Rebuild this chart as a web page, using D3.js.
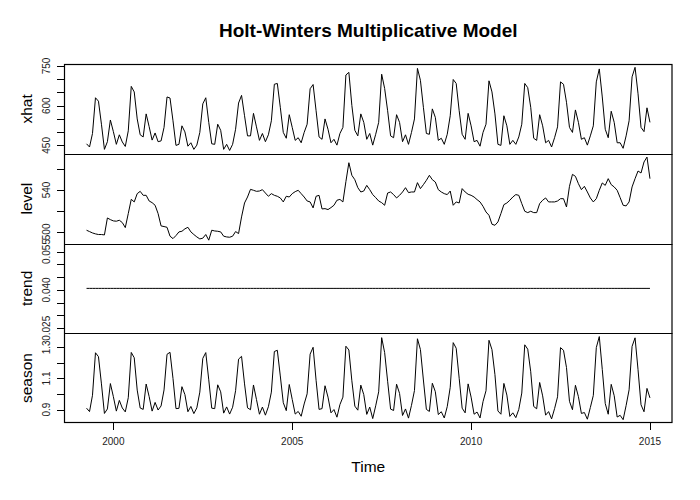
<!DOCTYPE html>
<html><head><meta charset="utf-8">
<script src="https://cdn.jsdelivr.net/npm/d3@7"></script>
<style>body{margin:0;background:#fff} svg{display:block}</style>
</head><body>
<script>
// ---- data (monthly series, starting April 1999) ----
const startYear = 1999, startMonth = 4, frequency = 12;

const xhat = [
456,444,495,630,617,530,435,464,546,502,454,490,
463,446,505,673,652,550,490,482,569,521,470,497,
464,467,518,633,629,543,450,454,524,501,447,460,
435,451,499,607,630,537,456,454,530,507,435,454,
431,454,511,610,639,562,486,486,571,520,469,495,
464,490,543,681,684,594,499,477,566,518,469,479,
460,499,530,664,680,581,482,473,550,511,460,473,
451,495,518,716,726,601,507,486,569,537,473,495,
451,492,537,719,665,581,486,479,566,537,464,490,
454,499,550,741,696,594,495,492,588,556,469,477,
454,492,562,699,684,581,492,473,571,524,464,469,
447,499,530,694,652,569,454,450,562,524,454,469,
454,482,530,684,668,594,477,469,566,524,460,469,
444,479,520,690,681,613,518,499,584,537,473,479,
451,486,524,690,739,633,511,479,579,537,460,460,
439,486,543,709,745,645,518,502,592,537];

const level = [
501.6,500.3,499.0,498.1,497.5,497.5,497.1,513.3,511.7,510.5,510.2,511.1,
508.9,504.1,517.5,531.1,528.6,536.5,538.7,534.9,534.9,529.5,527.9,525.4,
517.5,505.7,505.1,504.4,495.9,493.6,496.5,500.0,500.6,502.9,504.4,500.0,
497.5,495.2,493.3,494.0,497.5,492.1,501.6,500.9,500.6,500.0,495.9,495.2,
494.9,495.9,500.3,498.4,514.3,527.6,533.3,540.6,539.7,538.7,539.0,540.3,
537.1,534.0,536.5,534.9,534.0,532.4,528.6,534.0,533.3,536.5,538.4,539.7,
536.5,533.3,529.5,528.6,522.9,534.0,534.9,521.9,522.2,521.3,523.2,525.4,
530.2,531.0,528.6,548.0,566.0,554.0,549.8,542.2,538.1,539.0,544.4,540.3,
535.6,532.7,529.5,527.9,525.4,537.1,538.1,535.6,532.4,534.9,538.1,542.2,
537.5,538.1,538.1,547.0,541.3,545.1,549.2,554.0,549.8,547.6,540.3,538.1,
536.5,535.6,539.0,525.4,528.6,527.6,541.3,538.1,535.9,534.9,533.3,530.8,
528.6,524.4,519.0,515.9,507.3,506.3,509.5,517.5,526.0,527.6,530.2,533.3,
535.6,534.9,527.0,519.7,518.4,519.7,518.4,518.4,527.0,530.2,532.4,528.6,
528.6,528.6,529.5,531.7,531.7,523.8,543.5,554.9,553.0,546.0,540.3,543.5,
538.1,532.4,528.6,531.7,539.7,546.7,544.4,550.8,545.1,542.9,539.7,532.7,
525.4,524.8,528.6,542.9,550.8,558.1,556.2,566.7,571.4,550.8];

const trendValue = 0.0406;   // the fitted trend is constant
const trend = xhat.map(() => trendValue);

const season = [
0.909,0.887,0.992,1.265,1.240,1.065,0.875,0.904,1.067,0.983,0.890,0.959,
0.910,0.885,0.976,1.267,1.233,1.025,0.910,0.901,1.064,0.984,0.890,0.946,
0.897,0.923,1.026,1.255,1.268,1.100,0.906,0.908,1.047,0.996,0.886,0.920,
0.874,0.911,1.012,1.229,1.266,1.091,0.909,0.906,1.059,1.014,0.877,0.917,
0.871,0.915,1.021,1.224,1.242,1.065,0.911,0.899,1.058,0.965,0.870,0.916,
0.864,0.918,1.012,1.273,1.281,1.116,0.944,0.893,1.061,0.965,0.871,0.888,
0.857,0.936,1.001,1.256,1.300,1.088,0.901,0.906,1.053,0.980,0.879,0.900,
0.851,0.932,0.980,1.307,1.283,1.085,0.922,0.896,1.057,0.996,0.869,0.916,
0.842,0.924,1.014,1.362,1.266,1.082,0.903,0.894,1.063,1.004,0.862,0.904,
0.845,0.927,1.022,1.355,1.286,1.090,0.901,0.888,1.069,1.015,0.868,0.886,
0.846,0.919,1.043,1.330,1.294,1.101,0.909,0.879,1.065,0.980,0.870,0.884,
0.846,0.951,1.021,1.345,1.285,1.124,0.891,0.870,1.068,0.993,0.856,0.879,
0.848,0.901,1.006,1.316,1.288,1.143,0.920,0.905,1.074,0.988,0.864,0.887,
0.840,0.906,0.982,1.298,1.281,1.170,0.953,0.899,1.056,0.983,0.875,0.881,
0.838,0.913,0.991,1.298,1.369,1.158,0.939,0.870,1.062,0.989,0.852,0.863,
0.835,0.926,1.027,1.306,1.361,1.156,0.931,0.886,1.036,0.975];

const panelNames = ["xhat", "level", "trend", "season"];
const xTickYears = [2000, 2005, 2010, 2015];
const xhatTicks = [450, 500, 550, 600, 650, 700, 750];
const xhatTickLabels = ["450", "600", "750"];
const levelTicks = [500, 520, 540, 560];
const levelTickLabels = ["500", "540"];
const trendTicks = [0.025, 0.030, 0.035, 0.040, 0.045, 0.050, 0.055];
const trendTickLabels = ["0.025", "0.040", "0.055"];
const seasonTicks = [0.9, 1.0, 1.1, 1.2, 1.3];
const seasonTickLabels = ["0.9", "1.1", "1.3"];

(function draw() {
  // ---- layout ----
  const W = 700, H = 500;
  const pLeft = 64, pRight = 672.5, pTop = 64, pBottom = 423;
  const font = "'Liberation Sans', Arial, Helvetica, sans-serif";

  const time = xhat.map((_, i) => startYear + (startMonth - 1) / frequency + i / frequency);

  function rPad(lo, hi) {            // R-style 4% axis extension
    if (lo === hi) { const d = 0.4 * Math.abs(lo); lo -= d; hi += d; }
    const p = 0.04 * (hi - lo);
    return [lo - p, hi + p];
  }

  const svg = d3.select("body").append("svg").attr("width", W).attr("height", H);

  const x = d3.scaleLinear().domain(rPad(d3.min(time), d3.max(time))).range([pLeft, pRight]);

  const panels = [
    {name: panelNames[0], values: xhat,   ticks: xhatTicks,   labels: xhatTickLabels},
    {name: panelNames[1], values: level,  ticks: levelTicks,  labels: levelTickLabels},
    {name: panelNames[2], values: trend,  ticks: trendTicks,  labels: trendTickLabels},
    {name: panelNames[3], values: season, ticks: seasonTicks, labels: seasonTickLabels}
  ];
  const ph = (pBottom - pTop) / panels.length;

  panels.forEach((p, k) => {
    const y0 = pTop + k * ph, y1 = y0 + ph;
    const y = d3.scaleLinear().domain(rPad(d3.min(p.values), d3.max(p.values))).range([y1, y0]);
    const g = svg.append("g");

    g.append("path")
      .datum(p.values)
      .attr("fill", "none").attr("stroke", "#000").attr("stroke-width", 1)
      .attr("d", d3.line().x((d, i) => x(time[i])).y(d => y(d)));

    const ax = g.append("g").attr("transform", `translate(${pLeft},0)`);
    ax.selectAll("line").data(p.ticks).enter().append("line")
      .attr("x1", -7).attr("x2", 0)
      .attr("y1", d => Math.round(y(d)) + 0.5).attr("y2", d => Math.round(y(d)) + 0.5)
      .attr("stroke", "#000").attr("stroke-width", 1);
    ax.selectAll("text").data(p.labels).enter().append("text")
      .attr("transform", d => `translate(-14.5,${y(+d)}) rotate(-90)`)
      .attr("text-anchor", "middle")
      .style("font-family", font).style("font-size", "10px").attr("fill", "#222")
      .text(d => d);

    g.append("text")
      .attr("transform", `translate(32,${(y0 + y1) / 2}) rotate(-90)`)
      .attr("text-anchor", "middle")
      .style("font-family", font).style("font-size", "15.5px")
      .text(p.name);
  });

  svg.append("rect")
    .attr("x", pLeft + 0.5).attr("y", pTop + 0.5)
    .attr("width", pRight - pLeft - 1).attr("height", pBottom - pTop - 1)
    .attr("fill", "none").attr("stroke", "#000").attr("stroke-width", 1.2);
  for (let k = 1; k < panels.length; k++) {
    const yy = Math.round(pTop + k * ph) + 0.5;
    svg.append("line").attr("x1", pLeft).attr("x2", pRight).attr("y1", yy).attr("y2", yy)
      .attr("stroke", "#000").attr("stroke-width", 1.2);
  }

  const xa = svg.append("g");
  xa.selectAll("line").data(xTickYears).enter().append("line")
    .attr("x1", d => Math.round(x(d)) + 0.5).attr("x2", d => Math.round(x(d)) + 0.5)
    .attr("y1", pBottom).attr("y2", pBottom + 7)
    .attr("stroke", "#000").attr("stroke-width", 1);
  xa.selectAll("text").data(xTickYears).enter().append("text")
    .attr("x", d => x(d)).attr("y", pBottom + 22)
    .attr("text-anchor", "middle")
    .style("font-family", font).style("font-size", "10px").attr("fill", "#222")
    .text(d => d);

  svg.append("text").attr("x", (pLeft + pRight) / 2).attr("y", 472)
    .attr("text-anchor", "middle")
    .style("font-family", font).style("font-size", "15.5px")
    .text("Time");

  svg.append("text").attr("x", (pLeft + pRight) / 2).attr("y", 37)
    .attr("text-anchor", "middle")
    .style("font-family", font).style("font-size", "19px").style("font-weight", "bold")
    .text("Holt-Winters Multiplicative Model");
})();
</script>
</body></html>
